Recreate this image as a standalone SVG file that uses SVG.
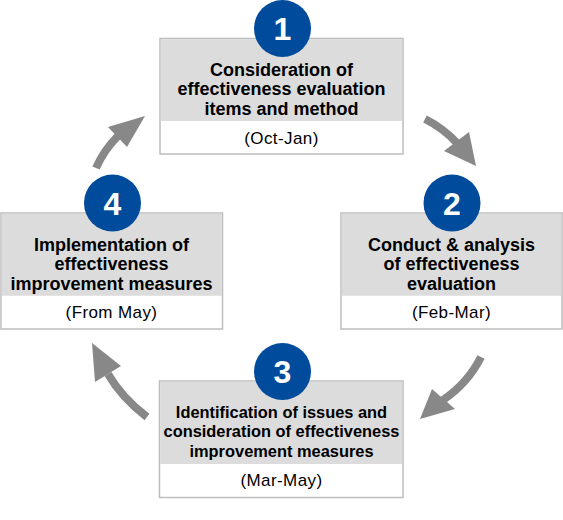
<svg xmlns="http://www.w3.org/2000/svg" width="563" height="520" viewBox="0 0 563 520">
<style>
.box{fill:#fff;stroke:#bdbdbd;stroke-width:1.5}
.top{fill:#dcdcdc}
.badge{fill:#004b9b}
.num{font-family:"Liberation Sans",Arial,sans-serif;font-weight:bold;font-size:32px;fill:#fff;text-anchor:middle}
.t{font-family:"Liberation Sans",Arial,sans-serif;font-weight:bold;font-size:18px;fill:#000;text-anchor:middle}
.s{font-size:16.4px}
.d{font-family:"Liberation Sans",Arial,sans-serif;font-size:17px;letter-spacing:0.4px;fill:#000;text-anchor:middle}
.shaft{fill:none;stroke:#888;stroke-width:8}
.head{fill:#888}
</style>
<g id="connectors">
<path class="shaft" d="M425,119 Q443,128 457,143"/>
<polygon class="head" points="476,166 444,151 469,132"/>
<path class="shaft" d="M481,357 Q468,383 443,400"/>
<polygon class="head" points="420,419 432,389 455,409"/>
<path class="shaft" d="M147,417 Q122,398 108,374"/>
<polygon class="head" points="92,343 95,382 121,366"/>
<path class="shaft" d="M96,168 Q104,150 118,136"/>
<polygon class="head" points="145,116 108,127 127,147"/>
</g>
<g id="node1">
<rect class="box" x="160" y="38.5" width="243" height="115.5"/>
<rect class="top" x="160.75" y="39.25" width="241.5" height="81.75"/>
<circle class="badge" cx="282.5" cy="28.5" r="28.5"/>
<text class="num" x="282.5" y="40">1</text>
<text class="t" x="281.5" y="75.5">Consideration of</text>
<text class="t" x="281.5" y="95">effectiveness evaluation</text>
<text class="t" x="281.5" y="114.5">items and method</text>
<text class="d" x="281.5" y="143.5">(Oct-Jan)</text>
</g>
<g id="node2">
<rect class="box" x="341" y="213" width="221" height="116"/>
<rect class="top" x="341.75" y="213.75" width="219.5" height="82"/>
<circle class="badge" cx="452" cy="203" r="28.5"/>
<text class="num" x="452" y="214.5">2</text>
<text class="t" x="451.5" y="250.5">Conduct &amp; analysis</text>
<text class="t" x="451.5" y="270">of effectiveness</text>
<text class="t" x="451.5" y="289.5">evaluation</text>
<text class="d" x="451.5" y="318">(Feb-Mar)</text>
</g>
<g id="node3">
<rect class="box" x="159.5" y="381" width="243.5" height="116.5"/>
<rect class="top" x="160.25" y="381.75" width="242" height="82.25"/>
<circle class="badge" cx="282.5" cy="371.5" r="28.5"/>
<text class="num" x="282.5" y="383">3</text>
<text class="t s" x="281.5" y="417.5">Identification of issues and</text>
<text class="t s" x="281.5" y="437">consideration of effectiveness</text>
<text class="t s" x="281.5" y="456.5">improvement measures</text>
<text class="d" x="281.5" y="485.5">(Mar-May)</text>
</g>
<g id="node4">
<rect class="box" x="1" y="213" width="221.5" height="116"/>
<rect class="top" x="1.75" y="213.75" width="220" height="82"/>
<circle class="badge" cx="112.5" cy="203" r="28.5"/>
<text class="num" x="112.5" y="214.5">4</text>
<text class="t" x="111.5" y="250.5">Implementation of</text>
<text class="t" x="111.5" y="270">effectiveness</text>
<text class="t" x="111.5" y="289.5">improvement measures</text>
<text class="d" x="111.5" y="318">(From May)</text>
</g>
</svg>
